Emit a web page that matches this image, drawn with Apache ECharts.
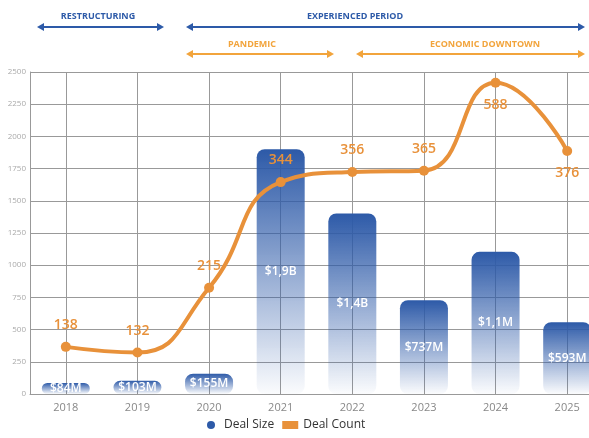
<!DOCTYPE html>
<html>
<head>
<meta charset="utf-8">
<script src="https://cdn.jsdelivr.net/npm/echarts@6/dist/echarts.min.js"></script>
<style>
  html, body { margin: 0; padding: 0; background: #fff; }
  #chart { width: 589px; height: 438px; }
</style>
</head>
<body>
<div id="chart"></div>
<script>
// data
const years = ["2018", "2019", "2020", "2021", "2022", "2023", "2024", "2025"];
const dealSize = [86, 103, 158, 1900, 1402, 728, 1104, 557];
const dealSizeLabels = ["$84M", "$103M", "$155M", "$1,9B", "$1,4B", "$737M", "$1,1M", "$593M"];
const countLevel = [366, 322, 825, 1645, 1723, 1734, 2417, 1887];
const dealCount = [138, 132, 215, 344, 356, 365, 588, 376];
const countLabelPos = ["top", "top", "top", "top", "top", "top", "bottom", "bottom"];
const yTicks = { min: 0, max: 2500, interval: 250 };

const BLUE = "#2d5aa8";
const ORANGE = "#e8913a";
const ORANGE_LIGHT = "#f2a43c";
const FONT = "'Open Sans', sans-serif";

const chart = echarts.init(document.getElementById("chart"));

// period arrows above the plot
function arrow(x1, x2, y, color) {
  return [
    { type: "line", shape: { x1: x1 + 4, y1: y, x2: x2 - 4, y2: y }, style: { stroke: color, lineWidth: 2 } },
    { type: "polygon", shape: { points: [[x1, y], [x1 + 7, y - 4], [x1 + 7, y + 4]] }, style: { fill: color } },
    { type: "polygon", shape: { points: [[x2, y], [x2 - 7, y - 4], [x2 - 7, y + 4]] }, style: { fill: color } }
  ];
}
function caption(x, y, text, color) {
  return {
    type: "text", x: x, y: y,
    style: { text: text, fill: color, font: "bold 9px " + FONT, align: "center", verticalAlign: "middle" }
  };
}

const graphics = [].concat(
  caption(98, 16, "RESTRUCTURING", BLUE),
  arrow(37, 164, 27, BLUE),
  caption(355, 16, "EXPERIENCED PERIOD", BLUE),
  arrow(186, 585, 27, BLUE),
  caption(252, 44, "PANDEMIC", ORANGE_LIGHT),
  arrow(186, 334, 54, ORANGE_LIGHT),
  caption(485, 44, "ECONOMIC DOWNTOWN", ORANGE_LIGHT),
  arrow(356, 585, 54, ORANGE_LIGHT)
);

const option = {
  animation: false,
  textStyle: { fontFamily: FONT },
  // the plot runs past the right edge, the last band is cut off
  grid: { left: 30, width: 573, top: 72, bottom: 44, outerBoundsMode: "none", containLabel: false },
  graphic: graphics,
  legend: {
    bottom: 2,
    left: 202,
    itemWidth: 16,
    itemHeight: 8,
    itemGap: 8,
    textStyle: { color: "#333", fontSize: 12 },
    data: [
      { name: "Deal Size", icon: "circle", itemStyle: { color: BLUE } },
      { name: "Deal Count", icon: "rect", itemStyle: { color: ORANGE } }
    ]
  },
  xAxis: {
    type: "category",
    data: years,
    boundaryGap: true,
    axisLine: { show: true, lineStyle: { color: "#999" } },
    axisTick: { show: false },
    axisLabel: { color: "#888", fontSize: 11, margin: 8 },
    splitLine: { show: true, alignWithLabel: true, lineStyle: { color: "#999", width: 1 } }
  },
  yAxis: {
    type: "value",
    min: yTicks.min,
    max: yTicks.max,
    interval: yTicks.interval,
    axisLine: { show: true, lineStyle: { color: "#999" } },
    axisTick: { show: false },
    axisLabel: { color: "#aaa", fontSize: 8, margin: 4, formatter: v => String(v) },
    splitLine: { show: true, lineStyle: { color: "#999", width: 1 } }
  },
  series: [
    {
      name: "Deal Size",
      type: "bar",
      data: dealSize,
      barWidth: 48,
      itemStyle: {
        borderRadius: 8,
        color: new echarts.graphic.LinearGradient(0, 0, 0, 1, [
          { offset: 0, color: "rgba(45,90,168,1)" },
          { offset: 1, color: "rgba(45,90,168,0.02)" }
        ])
      },
      label: {
        show: true,
        position: "inside",
        color: "#fff",
        fontSize: 12,
        fontWeight: 600,
        formatter: p => dealSizeLabels[p.dataIndex]
      },
      z: 2
    },
    {
      name: "Deal Count",
      type: "line",
      data: countLevel.map((v, i) => ({
        value: v,
        label: { position: countLabelPos[i] }
      })),
      smooth: 0.5,
      symbol: "circle",
      symbolSize: 10,
      lineStyle: { color: ORANGE, width: 4 },
      itemStyle: { color: ORANGE },
      label: {
        show: true,
        color: ORANGE,
        fontSize: 14,
        fontWeight: 600,
        distance: 10,
        formatter: p => String(dealCount[p.dataIndex])
      },
      z: 5
    }
  ]
};

chart.setOption(option);
window.addEventListener("resize", () => chart.resize());
</script>
</body>
</html>
